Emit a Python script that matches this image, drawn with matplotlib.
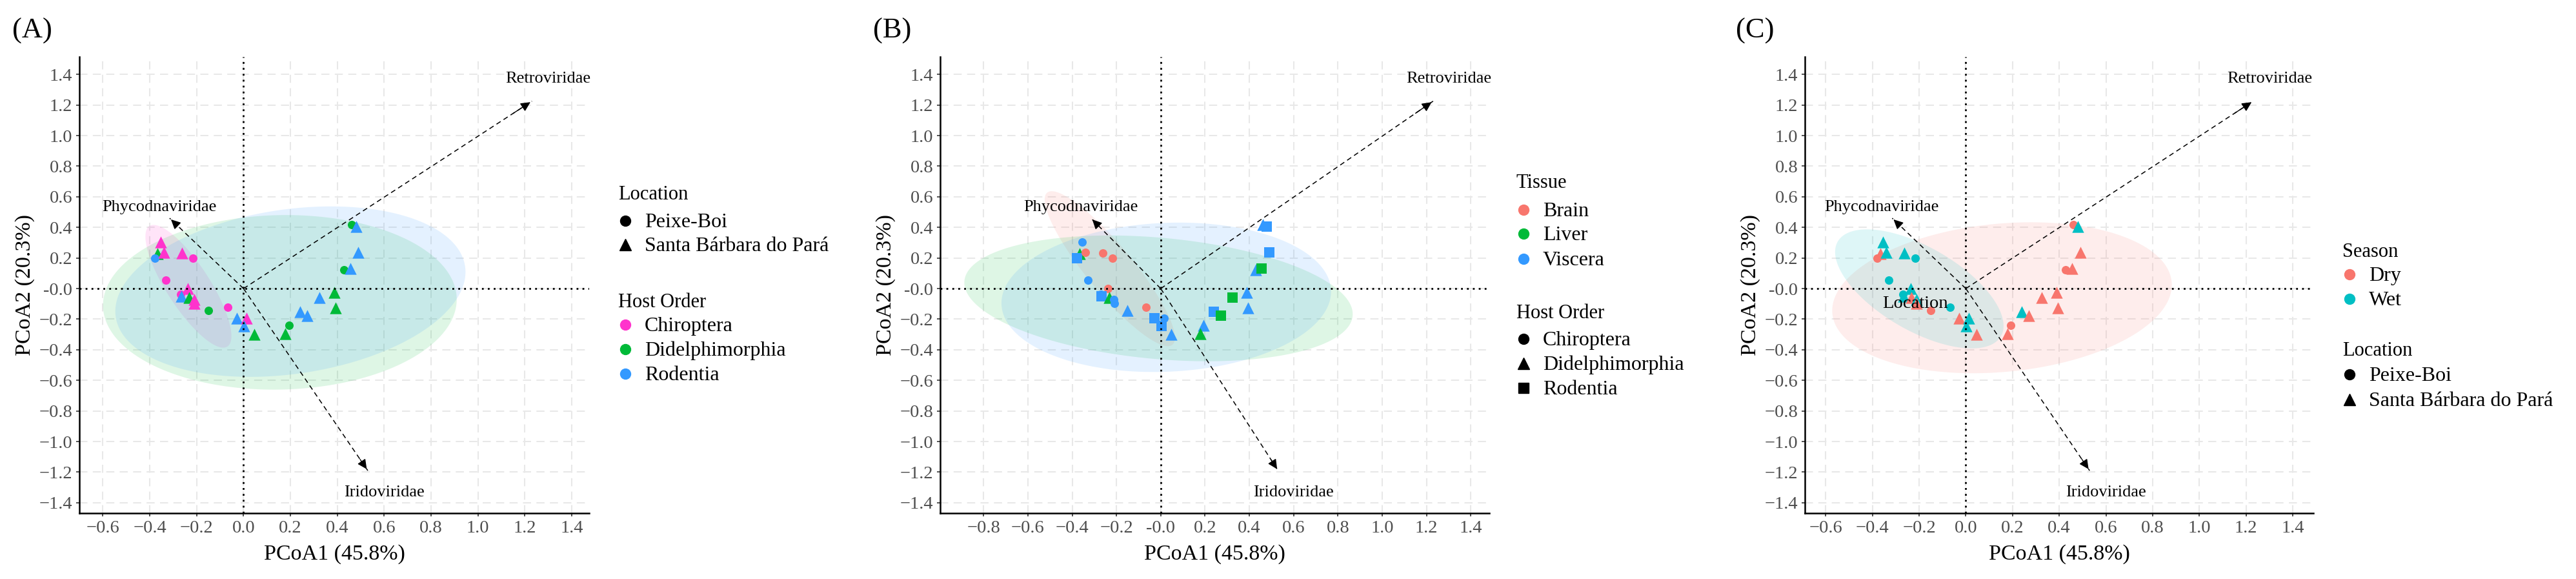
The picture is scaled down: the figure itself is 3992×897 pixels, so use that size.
import matplotlib
matplotlib.use("Agg")
import matplotlib.pyplot as plt
import numpy as np
from matplotlib.lines import Line2D
from matplotlib.patches import Polygon

plt.rcParams['font.family'] = ['Liberation Serif', 'DejaVu Serif']

# PCoA scores of the 31 samples
pc1 = [0.46, 0.48, 0.49, 0.428, 0.456, -0.354, -0.367, -0.379, -0.34, -0.263,
       -0.217, -0.33, -0.237, -0.269, -0.266, -0.232, -0.211, -0.21, -0.15, -0.067,
       -0.029, 0.014, 0.003, 0.047, 0.193, 0.178, 0.24, 0.271, 0.324, 0.388, 0.393]
pc2 = [0.42, 0.405, 0.238, 0.122, 0.13, 0.302, 0.228, 0.198, 0.236, 0.233,
       0.198, 0.057, 0.002, -0.036, -0.05, -0.058, -0.072, -0.098, -0.142, -0.122,
       -0.193, -0.194, -0.243, -0.299, -0.24, -0.294, -0.153, -0.178, -0.058, -0.026, -0.127]
host = ['Didelphimorphia', 'Rodentia', 'Rodentia', 'Didelphimorphia', 'Rodentia',
        'Chiroptera', 'Didelphimorphia', 'Rodentia', 'Chiroptera', 'Chiroptera',
        'Chiroptera', 'Chiroptera', 'Chiroptera', 'Chiroptera', 'Rodentia',
        'Didelphimorphia', 'Chiroptera', 'Chiroptera', 'Didelphimorphia', 'Chiroptera',
        'Rodentia', 'Chiroptera', 'Rodentia', 'Didelphimorphia', 'Didelphimorphia',
        'Didelphimorphia', 'Rodentia', 'Rodentia', 'Rodentia', 'Didelphimorphia', 'Didelphimorphia']
PB, SB = 'Peixe-Boi', 'Santa Bárbara do Pará'
location = [PB, SB, SB, PB, SB, SB, SB, PB, SB, SB,
            PB, PB, SB, PB, SB, SB, SB, SB, PB, PB,
            SB, SB, SB, SB, PB, SB, SB, SB, SB, SB, SB]
tissue = ['Viscera', 'Viscera', 'Viscera', 'Viscera', 'Liver', 'Viscera', 'Liver', 'Viscera', 'Brain', 'Brain',
          'Brain', 'Viscera', 'Brain', 'Viscera', 'Viscera', 'Liver', 'Viscera', 'Viscera', 'Viscera', 'Brain',
          'Viscera', 'Viscera', 'Viscera', 'Viscera', 'Viscera', 'Liver', 'Viscera', 'Liver', 'Liver', 'Viscera', 'Viscera']
season = ['Dry', 'Wet', 'Dry', 'Dry', 'Dry', 'Wet', 'Dry', 'Dry', 'Wet', 'Wet',
          'Wet', 'Wet', 'Wet', 'Wet', 'Wet', 'Dry', 'Wet', 'Dry', 'Dry', 'Wet',
          'Dry', 'Wet', 'Wet', 'Dry', 'Dry', 'Dry', 'Wet', 'Dry', 'Dry', 'Dry', 'Dry']

# fitted family vectors
vec_names = ['Retroviridae', 'Phycodnaviridae', 'Iridoviridae']
vec_x = [1.23, -0.315, 0.53]
vec_y = [1.225, 0.46, -1.19]
lab_x = [1.30, -0.36, 0.60]
lab_y = [1.37, 0.53, -1.335]

# 95% ellipses: centre and two conjugate semi-axes
ell_A = {'Chiroptera': (-0.235, 0.015, -0.165, 0.395, 0.08, 0.07),
         'Didelphimorphia': (0.155, -0.09, 0.75, 0.08, -0.08, 0.565),
         'Rodentia': (0.2, -0.02, 0.74, 0.2, -0.1, 0.52)}
ell_B = {'Brain': (-0.23, 0.13, -0.28, 0.5, 0.09, 0.08),
         'Liver': (-0.01, -0.064, 0.875, -0.13, 0.06, 0.39),
         'Viscera': (0.025, -0.057, 0.74, 0.09, -0.08, 0.48)}
ell_C = {'Dry': (0.155, -0.06, 0.72, 0.15, -0.1, 0.47),
         'Wet': (-0.199, -0.002, -0.30, 0.37, 0.2, 0.12)}

host_cols = {'Chiroptera': '#FF33CC', 'Didelphimorphia': '#00BA38', 'Rodentia': '#3399FF'}
tissue_cols = {'Brain': '#F8766D', 'Liver': '#00BA38', 'Viscera': '#3399FF'}
season_cols = {'Dry': '#F8766D', 'Wet': '#00BFC4'}
loc_marks = {PB: 'o', SB: '^'}
host_marks = {'Chiroptera': 'o', 'Didelphimorphia': '^', 'Rodentia': 's'}
msize = {'o': 88, '^': 175, 's': 117}

W, H = 3992, 897
fig = plt.figure(figsize=(W / 100, H / 100), dpi=100)


def fx(px):
    return px / W


def fy(py):
    return 1 - py / H


def panel(rect, cols, col_var, marks, mark_var, ells, xlim, xticks, tag, tagx):
    ax = fig.add_axes(rect)
    ax.set_xlim(xlim)
    ax.set_ylim(-1.468, 1.515)
    ax.set_xticks(xticks)
    ax.set_yticks(np.round(np.arange(-1.4, 1.41, 0.2), 1))
    ax.set_xticklabels(['%.1f' % v if v >= 0 else '\u2212%.1f' % -v for v in xticks])
    ax.set_yticklabels(['%.1f' % v if v >= 0 else '\u2212%.1f' % -v for v in ax.get_yticks()])
    ax.grid(True, color='#E8E8E8', lw=1.5, ls=(0, (6, 4)))
    ax.set_axisbelow(True)
    for s in ['top', 'right']:
        ax.spines[s].set_visible(False)
    for s in ['left', 'bottom']:
        ax.spines[s].set_linewidth(1.8)
    ax.tick_params(length=3.6, width=1.2, color='#333333', labelcolor='#4D4D4D',
                   labelsize=20.5, pad=4)

    t = np.linspace(0, 2 * np.pi, 200)
    for g, (cx, cy, axx, axy, bxx, bxy) in ells.items():
        pts = np.column_stack([cx + axx * np.cos(t) + bxx * np.sin(t),
                               cy + axy * np.cos(t) + bxy * np.sin(t)])
        ax.add_patch(Polygon(pts, closed=True, facecolor=cols[g], alpha=0.13,
                             edgecolor='none', zorder=1))

    for i in range(len(pc1)):
        m = marks[mark_var[i]]
        ax.scatter(pc1[i], pc2[i], s=msize[m], marker=m, color=cols[col_var[i]],
                   linewidths=0, zorder=3)

    ax.axhline(0, color='black', lw=2, ls=(0, (1, 2.3)), zorder=5)
    ax.axvline(0, color='black', lw=2, ls=(0, (1, 2.3)), zorder=5)

    for k in range(len(vec_names)):
        ax.plot([0, vec_x[k]], [0, vec_y[k]], color='black', lw=1.1,
                ls=(0, (5, 3.5)), zorder=4)
        ax.annotate('', xy=(vec_x[k], vec_y[k]),
                    xytext=(0.93 * vec_x[k], 0.93 * vec_y[k]),
                    arrowprops=dict(arrowstyle='-|>,head_length=0.45,head_width=0.22',
                                    color='black', lw=1.0, mutation_scale=20),
                    zorder=4)
        ax.text(lab_x[k], lab_y[k], vec_names[k], fontsize=19, ha='center',
                va='center', zorder=6)

    ax.set_xlabel('PCoA1 (45.8%)', fontsize=24.5, labelpad=9)
    ax.set_ylabel('PCoA2 (20.3%)', fontsize=24.5, labelpad=5)
    fig.text(fx(tagx), fy(48), tag, fontsize=32, ha='left', va='center')
    return ax


def legend_block(xt, title, ty, items, iy):
    fig.text(fx(xt), fy(ty + 9), title, fontsize=22, ha='left', va='baseline')
    for (lab, col, m, ms), y in zip(items, iy):
        fig.add_artist(Line2D([fx(xt + 11)], [fy(y)], transform=fig.transFigure,
                              marker=m, ms=ms, color=col, ls='none'))
        fig.text(fx(xt + 41), fy(y + 10), lab, fontsize=23, ha='left', va='baseline')


top, bot = 88, 795
hgt = (bot - top) / H
ticks_a = np.round(np.arange(-0.6, 1.41, 0.2), 1)
ticks_b = np.round(np.arange(-0.8, 1.41, 0.2), 1)

# (A) colour = host order, shape = location
panel([fx(123), fy(bot), 790 / W, hgt], host_cols, host, loc_marks, location,
      ell_A, (-0.70, 1.474), ticks_a, '(A)', 19)
legend_block(958, 'Location', 300,
             [(PB, 'black', 'o', 11.5), (SB, 'black', '^', 13.5)], [342, 379])
legend_block(958, 'Host Order', 467,
             [(h, host_cols[h], 'o', 11.5) for h in host_cols], [503, 541, 579])

# (B) colour = tissue, shape = host order
panel([fx(1457), fy(bot), 851 / W, hgt], tissue_cols, tissue, host_marks, host,
      ell_B, (-0.996, 1.484), ticks_b, '(B)', 1353)
legend_block(2350, 'Tissue', 282,
             [(k, tissue_cols[k], 'o', 11.5) for k in tissue_cols], [325, 362, 401])
legend_block(2350, 'Host Order', 484,
             [('Chiroptera', 'black', 'o', 11.5), ('Didelphimorphia', 'black', '^', 13.5),
              ('Rodentia', 'black', 's', 11)], [525, 563, 601])

# (C) colour = season, shape = location
axc = panel([fx(2797), fy(bot), 788 / W, hgt], season_cols, season, loc_marks, location,
            ell_C, (-0.689, 1.488), ticks_a, '(C)', 2690)
axc.text(-0.217, -0.10, 'Location', fontsize=20.5, ha='center', va='center', zorder=6)
legend_block(3630, 'Season', 389,
             [(k, season_cols[k], 'o', 11.5) for k in season_cols], [425, 463])
legend_block(3630, 'Location', 542,
             [(PB, 'black', 'o', 11.5), (SB, 'black', '^', 13.5)], [580, 619])

fig.savefig('out.png', dpi=100)
